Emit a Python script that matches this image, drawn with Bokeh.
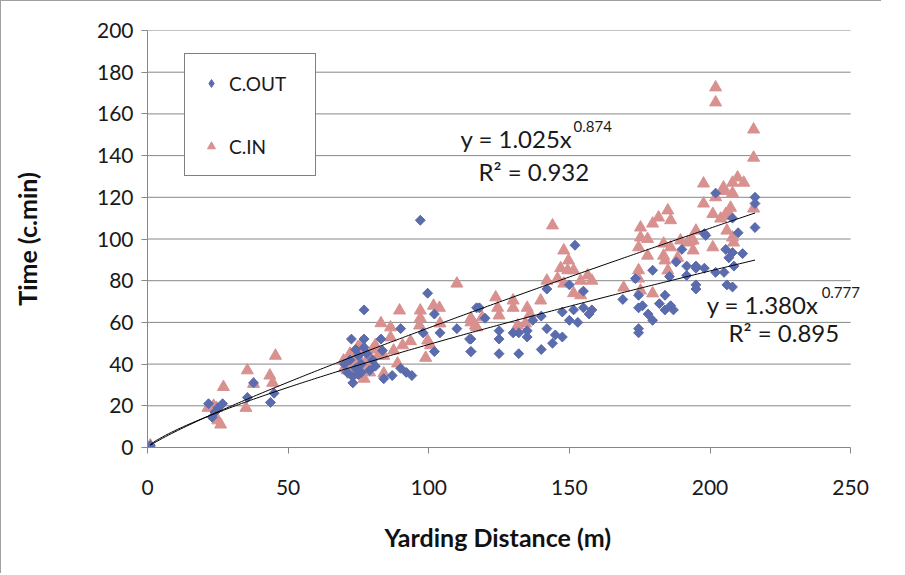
import numpy as np
from bokeh.plotting import figure
from bokeh.models import Legend, LegendItem, Label, FixedTicker, Range1d, Title
from bokeh.embed import file_html
from bokeh.resources import INLINE

# ---- data ----
cout_x = [1, 21.7, 26.7, 24, 23, 25, 35.5, 37.7, 43.7, 45,
          97, 77, 99.6, 72.5, 77, 83, 90, 102, 104, 110, 114.5, 115, 102, 98, 83.5, 73, 73, 84, 87, 90, 92, 94, 117,
          70, 72, 74, 75, 76, 78, 79, 80, 71, 75, 77, 81, 74, 76,
          152, 118, 120, 115, 115, 125, 125, 125, 130, 132, 132, 135, 135, 137, 140, 140, 142, 144, 145, 147.5, 147.5,
          150, 153, 155, 155, 157, 158, 142, 150, 151.5,
          179.6, 173.5, 169, 174.6, 176, 174.6, 178, 179.6, 174.6, 174.6, 182, 184, 184, 186, 187, 185.6, 188, 190,
          191.7, 195, 195, 195, 198, 198.5, 202,
          216, 216, 216, 202, 208, 210, 211.6, 205.6, 206.7, 208.5, 205, 195, 191.7, 206, 208, 198, 208]
cout_y = [1, 21, 21, 17, 14.5, 19, 24, 31, 21.6, 26,
          109, 66, 74, 52, 52, 52, 57, 64, 55, 57, 52, 46, 46, 55, 46.5, 34, 31, 33, 34.5, 38, 36, 34.5, 67,
          40, 42, 38, 44, 40, 45, 37, 42, 36, 35, 48, 39, 47, 36,
          97, 67, 62, 52, 46, 56, 52, 45, 55, 55, 45, 56, 53, 61, 63, 47, 57, 50, 54, 53, 65,
          61, 60, 75, 67, 64, 66, 76, 78, 66,
          85, 81, 71, 73, 68, 67, 64, 61, 57, 55, 69, 73, 66, 68, 66, 82, 89, 95,
          82.5, 86, 78, 76, 86, 101.7, 84,
          120, 117, 105.5, 122, 110, 103, 93, 95, 91, 87, 84, 87, 87, 78, 77, 102.6, 93.5]

cin_x = [1, 23.5, 24, 25, 26, 27, 24.5, 21.5, 35.5, 35, 37.7, 43.5, 45.5, 44.5,
         110, 89.6, 83, 86.4, 97, 97, 101.7, 103.8, 96.7, 104, 115, 117, 93.5, 90.7, 99.6, 100.6, 98.9, 86.4, 87.5,
         88.9, 84, 77, 69.7, 72, 74.7, 77, 79.3, 75.7, 73.3, 78, 71, 80.4,
         72, 74, 76, 78, 80, 82, 70, 73, 75, 79, 81, 84,
         144, 148, 149.7, 146.9, 149.4, 151.5, 142, 145.8, 148, 156.5, 158, 154, 151.5, 154, 139.8, 135, 130, 130,
         123.8, 124.5, 125, 136, 115, 116.6, 119, 131.6, 134.4,
         197.7, 197.7, 185, 181.7, 179.6, 186, 175.3, 175.3, 177.8, 174.6, 177.8, 183.5, 186, 189.5, 192, 195, 194,
         183.5, 184, 185, 188.5, 194, 201, 174.6, 174.6, 169.3, 175.3, 179.6,
         215.5, 209.8, 212, 208, 205, 208, 202, 207.3, 215.5, 201, 205.6, 207.3, 203.8, 206, 208, 208.4, 193,
         202, 202, 215.5, 204.8]
cin_y = [1, 20, 15, 13, 11, 29, 19, 19, 37, 19, 30.5, 34.5, 44, 31,
         78.6, 65.7, 59.6, 57.6, 65.7, 62, 68, 67, 58.5, 59.5, 60, 57.6, 51, 49, 51.3, 49, 43, 52.8, 46.5,
         40.3, 35.5, 33, 41.7, 45, 48, 46.5, 43, 41.7, 38.4, 38.4, 37, 40.3,
         40, 43, 50, 42, 47, 44, 38, 35, 46, 36, 49, 44,
         106.5, 94.5, 89.7, 86, 85, 85, 80, 81, 78.6, 82.5, 80, 80, 74, 73, 70.5, 67, 70.5, 67,
         72, 67, 63.3, 64, 62, 58.5, 62.4, 58.5, 59.5,
         126.6, 117, 113.7, 110.3, 107.4, 109, 105.5, 100.7, 100, 96, 92, 97.8, 96, 99.3, 98.3, 104, 99.3,
         92, 89.7, 84.9, 91, 94.5, 96, 85, 81, 76.7, 75.3, 73.9,
         139, 129.5, 127, 127, 123, 122, 120, 115, 114.6, 112, 112, 111, 109.8, 104, 100.7, 98.3, 99,
         172.7, 165.5, 152.5, 124.7]

# power trendlines y = a * x^b, as printed on the chart
cin_fit = (1.025, 0.874, "0.932")
cout_fit = (1.380, 0.777, "0.895")
fit_x_range = (1, 216)

x_ticks = [0, 50, 100, 150, 200, 250]
y_ticks = [0, 20, 40, 60, 80, 100, 120, 140, 160, 180, 200]

BLUE = "#5b6cae"
PINK = "#d9918f"
GRID = "#878787"
FONT = "Lato"

# frame extended a little past 250 so the right-hand equation is not clipped
X_END = 256
p = figure(x_range=Range1d(0, X_END), y_range=Range1d(0, 200),
           output_backend="svg", toolbar_location=None,
           min_border_left=146, min_border_right=14, min_border_top=29, min_border_bottom=20)
p.frame_width = 720
p.frame_height = 417
p.outline_line_color = None
p.background_fill_color = "white"
p.styles = {"border-left": "1px solid #a0a0a0", "border-top": "1px solid #a0a0a0"}

p.xgrid.grid_line_color = None
p.ygrid.grid_line_color = None
# horizontal gridlines only across the 0..250 range
p.segment(x0=x_ticks[0], x1=x_ticks[-1], y0=y_ticks[1:], y1=y_ticks[1:], line_color=GRID, line_width=1)

for ax in (p.xaxis[0], p.yaxis[0]):
    ax.axis_line_color = GRID
    ax.major_tick_line_color = GRID
    ax.major_tick_in = 0
    ax.major_tick_out = 6
    ax.minor_tick_line_color = None
    ax.major_label_text_font = FONT
    ax.major_label_text_font_size = "21px"
    ax.major_label_text_color = "#1a1a1a"
    ax.axis_label_text_font = FONT
    ax.axis_label_text_font_size = "25px"
    ax.axis_label_text_font_style = "bold"
    ax.axis_label_text_color = "#111111"

p.xaxis.bounds = (x_ticks[0], x_ticks[-1])
p.xaxis.ticker = FixedTicker(ticks=x_ticks)
p.yaxis.ticker = FixedTicker(ticks=y_ticks)
p.yaxis.axis_label = "Time (c.min)"
p.xaxis.major_label_standoff = 26
p.yaxis.major_label_standoff = 8
p.yaxis.axis_label_standoff = 52

# x-axis title centred under the 0..250 span (the frame itself runs a bit wider)
p.add_layout(Title(text="Yarding Distance (m)", align="left", offset=237, standoff=44,
                   text_font=FONT, text_font_size="25px", text_font_style="bold",
                   text_color="#111111"), "below")

r_out_key = p.scatter(cout_x, cout_y, marker="diamond", size=9, fill_color=BLUE, line_color=BLUE)
r_in = p.scatter(cin_x, cin_y, marker="triangle", size=12, fill_color=PINK, line_color=PINK)
r_out = p.scatter(cout_x, cout_y, marker="square", angle=np.pi / 4, size=7,
                  fill_color=BLUE, line_color=BLUE)

xs = np.linspace(fit_x_range[0], fit_x_range[1], 200)
for a, b, _ in (cin_fit, cout_fit):
    p.line(xs, a * xs ** b, line_color="black", line_width=1)

legend = Legend(items=[LegendItem(label="C.OUT", renderers=[r_out_key]),
                       LegendItem(label="C.IN", renderers=[r_in])],
                location=(37, 271), orientation="vertical",
                border_line_color="black", border_line_width=1,
                background_fill_color="white", background_fill_alpha=1,
                padding=16, spacing=37, glyph_width=20, glyph_height=20,
                label_height=26, label_width=70, label_standoff=8,
                label_text_font=FONT, label_text_font_size="19px", label_text_color="#1a1a1a",
                margin=0)
p.add_layout(legend, "center")

def eq_labels(a, b, r2, x, y, sup_dx, xr, yr):
    p.add_layout(Label(x=x, y=y, text=f"y = {a:.3f}x", text_font=FONT, text_font_size="24px",
                       text_color="#1a1a1a", text_baseline="middle"))
    p.add_layout(Label(x=x, y=y + 6, x_offset=sup_dx, text=f"{b:.3f}", text_font=FONT,
                       text_font_size="15px", text_color="#1a1a1a", text_baseline="middle"))
    p.add_layout(Label(x=xr, y=yr, text=f"R\u00b2 = {r2}", text_font=FONT, text_font_size="24px",
                       text_color="#1a1a1a", text_baseline="middle"))

eq_labels(cin_fit[0], cin_fit[1], cin_fit[2], 111.3, 148, 113, 117.7, 132.5)
eq_labels(cout_fit[0], cout_fit[1], cout_fit[2], 198.8, 68.5, 115, 206.6, 55)

open("out.html", "w").write(file_html(p, INLINE))
